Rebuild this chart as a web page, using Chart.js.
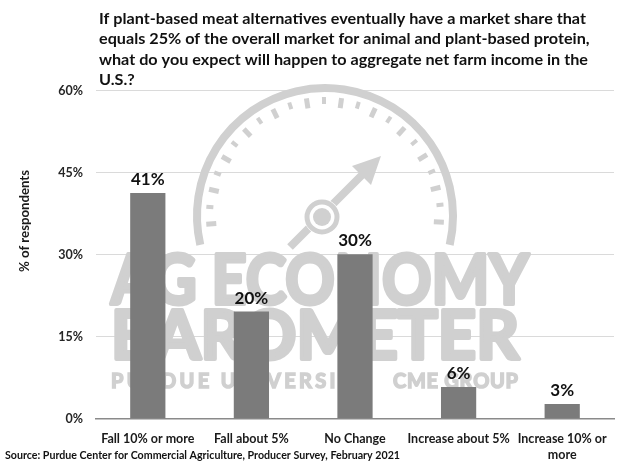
<!DOCTYPE html>
<html>
<head>
<meta charset="utf-8">
<script src="https://cdn.jsdelivr.net/npm/chart.js@4"></script>
<style>
  html, body { margin: 0; padding: 0; background: #ffffff; }
  #c { display: block; }
</style>
</head>
<body>
<canvas id="c" width="629" height="467"></canvas>
<script>
// ---- data ----
const categories = [
  ["Fall 10% or more"],
  ["Fall about 5%"],
  ["No Change"],
  ["Increase about 5%"],
  ["Increase 10% or", "more"]
];
const values = [41.3, 19.6, 30.1, 5.8, 2.7];
const valueLabels = ["41%", "20%", "30%", "6%", "3%"];
const yTicks = [0, 15, 30, 45, 60];
const titleLines = [
  "If plant-based meat alternatives eventually have a market share that",
  "equals 25% of the overall market for animal and plant-based protein,",
  "what do you expect will happen to aggregate net farm income in the",
  "U.S.?"
];
const yTitle = "% of respondents";
const sourceText = "Source: Purdue Center for Commercial Agriculture, Producer Survey, February 2021";
const watermarkLines = ["AG ECONOMY", "BAROMETER", "PURDUE UNIVERSITY", "CME GROUP"];

// ---- helpers ----
const FONT = "Lato, 'Open Sans', 'Liberation Sans', sans-serif";
const WM = "#d0d0d0";

function fitText(ctx, text, x, y, targetW, font, strokeW) {
  ctx.font = font;
  const w = ctx.measureText(text).width;
  ctx.save();
  ctx.translate(x, y);
  ctx.scale(targetW / w, 1);
  ctx.fillText(text, 0, 0);
  if (strokeW) { ctx.lineWidth = strokeW; ctx.lineJoin = "round"; ctx.strokeText(text, 0, 0); }
  ctx.restore();
}
function drawSpaced(ctx, text, x, y, width, font, strokeW) {
  ctx.font = font;
  const chars = text.split("");
  const ws = chars.map(c => ctx.measureText(c).width);
  const total = ws.reduce((a, b) => a + b, 0);
  const gap = (width - total) / (chars.length - 1);
  let cx = x;
  chars.forEach((c, i) => {
    ctx.fillText(c, cx, y);
    if (strokeW) { ctx.lineWidth = strokeW; ctx.strokeText(c, cx, y); }
    cx += ws[i] + gap;
  });
}

const watermark = {
  id: "watermark",
  beforeDatasetsDraw(chart) {
    const ctx = chart.ctx;
    ctx.save();
    ctx.strokeStyle = WM;
    ctx.fillStyle = WM;
    const cx = 325, cy = 216;
    // outer ring
    ctx.lineWidth = 8;
    ctx.beginPath();
    ctx.arc(cx, cy, 128, 167 * Math.PI / 180, 13 * Math.PI / 180);
    ctx.stroke();
    // tick dashes
    for (let i = 0; i <= 22; i++) {
      const a = (176 + i * 8.5) * Math.PI / 180;
      const long = i % 2 === 0;
      const r1 = long ? 109 : 112, r2 = 119;
      ctx.lineWidth = long ? 5 : 4;
      ctx.beginPath();
      ctx.moveTo(cx + r1 * Math.cos(a), cy + r1 * Math.sin(a));
      ctx.lineTo(cx + r2 * Math.cos(a), cy + r2 * Math.sin(a));
      ctx.stroke();
    }
    // needle and hub
    const hx = 322, hy = 217;
    ctx.lineWidth = 8;
    ctx.beginPath();
    ctx.moveTo(hx - 32, hy + 30);
    ctx.lineTo(hx + 48, hy - 50);
    ctx.stroke();
    ctx.beginPath();
    ctx.moveTo(381, 156);
    ctx.lineTo(352, 166);
    ctx.lineTo(371, 185);
    ctx.closePath();
    ctx.fill();
    ctx.fillStyle = "#ffffff";
    ctx.beginPath(); ctx.arc(hx, hy, 18, 0, Math.PI * 2); ctx.fill();
    ctx.fillStyle = WM;
    ctx.lineWidth = 5;
    ctx.beginPath(); ctx.arc(hx, hy, 15, 0, Math.PI * 2); ctx.stroke();
    ctx.beginPath(); ctx.arc(hx, hy, 9, 0, Math.PI * 2); ctx.fill();
    // words
    ctx.textBaseline = "alphabetic";
    ctx.textAlign = "left";
    fitText(ctx, watermarkLines[0], 111, 304, 418, "bold 68px " + FONT, 4);
    fitText(ctx, watermarkLines[1], 111, 359, 408, "bold 66px " + FONT, 4);
    drawSpaced(ctx, watermarkLines[2], 111, 388, 256, "bold 20px " + FONT, 1.5);
    drawSpaced(ctx, watermarkLines[3], 393, 388, 125, "bold 20px " + FONT, 1.5);
    ctx.restore();
  }
};

const decorations = {
  id: "decorations",
  afterDatasetsDraw(chart) {
    const ctx = chart.ctx;
    const meta = chart.getDatasetMeta(0);
    ctx.save();
    ctx.fillStyle = "#111111";
    ctx.font = "bold 17px " + FONT;
    ctx.textAlign = "center";
    ctx.textBaseline = "alphabetic";
    meta.data.forEach((bar, i) => {
      ctx.fillText(valueLabels[i], bar.x, bar.y - 8);
    });
    ctx.restore();
  },
  afterDraw(chart) {
    const ctx = chart.ctx;
    ctx.save();
    ctx.fillStyle = "#111111";
    ctx.textAlign = "left";
    ctx.textBaseline = "alphabetic";
    // title
    const tFont = "bold 15px " + FONT;
    ctx.font = tFont;
    const k = 487 / ctx.measureText(titleLines[0]).width;
    titleLines.forEach((line, i) => {
      ctx.font = tFont;
      const w = ctx.measureText(line).width;
      fitText(ctx, line, 99, 23.5 + i * 20.6, w * k, tFont);
    });
    // source
    fitText(ctx, sourceText, 5, 459, 395, "bold 11px " + FONT);
    // y title
    ctx.save();
    ctx.translate(25, 221);
    ctx.rotate(-Math.PI / 2);
    ctx.textAlign = "center";
    ctx.textBaseline = "middle";
    ctx.fillStyle = "#1a1a1a";
    ctx.font = "bold 13px " + FONT;
    const yw = ctx.measureText(yTitle).width;
    ctx.scale(102 / yw, 1);
    ctx.fillText(yTitle, 0, 0);
    ctx.restore();
    ctx.restore();
  }
};

new Chart(document.getElementById("c"), {
  type: "bar",
  data: {
    labels: categories,
    datasets: [{
      data: values,
      backgroundColor: "#7b7b7b",
      borderWidth: 0,
      barPercentage: 0.34,
      categoryPercentage: 1.0
    }]
  },
  options: {
    responsive: false,
    animation: false,
    devicePixelRatio: 1,
    layout: { padding: { top: 90.7, right: 15, bottom: 0, left: 0 } },
    plugins: {
      legend: { display: false },
      title: { display: false },
      tooltip: { enabled: false }
    },
    scales: {
      x: {
        grid: { display: false },
        border: { display: true, color: "#8a8a8a", width: 1.5 },
        ticks: {
          color: "#1a1a1a",
          font: { family: FONT, size: 12.5, weight: "bold", lineHeight: 1.3 },
          padding: 4,
          maxRotation: 0,
          autoSkip: false
        },
        afterFit(s) { s.height = 467 - 418.7; }
      },
      y: {
        min: 0,
        max: 60,
        afterBuildTicks(s) { s.ticks = yTicks.map(v => ({ value: v })); },
        grid: { color: "#dadada", lineWidth: 1, drawTicks: false },
        border: { display: false },
        ticks: {
          color: "#262626",
          font: { family: FONT, size: 12.5, weight: "bold" },
          padding: 13,
          callback: v => v + "%"
        },
        afterFit(s) { s.width = 96; }
      }
    }
  },
  plugins: [watermark, decorations]
});
</script>
</body>
</html>
